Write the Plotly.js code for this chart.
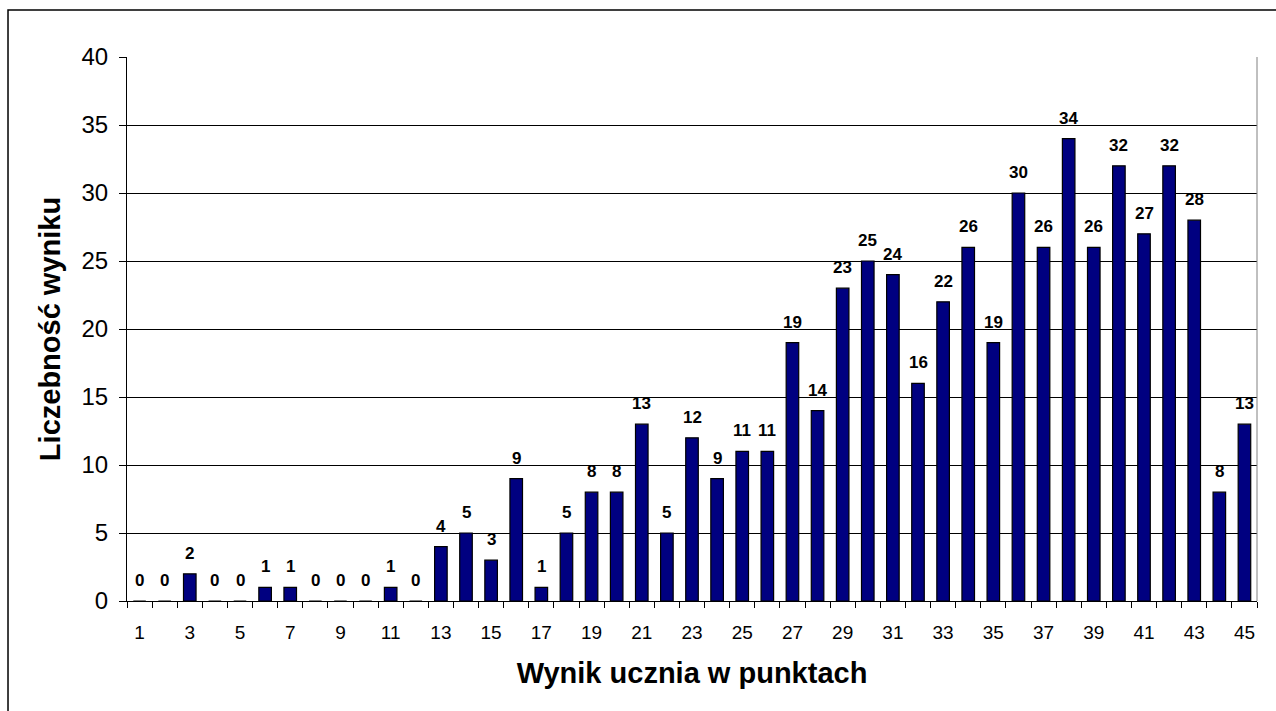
<!DOCTYPE html>
<html><head><meta charset="utf-8">
<script src="https://cdn.plot.ly/plotly-3.0.1.min.js"></script>
<style>html,body{margin:0;padding:0;background:#fff}#c{width:1276px;height:711px}</style>
</head><body><div id="c"></div>
<script>
const scores = Array.from({length:45},(_,i)=>i+1);
const counts = [0,0,2,0,0,1,1,0,0,0,1,0,4,5,3,9,1,5,8,8,13,5,12,9,11,11,19,14,23,25,24,16,22,26,19,30,26,34,26,32,27,32,28,8,13];
const xTickVals = [1,3,5,7,9,11,13,15,17,19,21,23,25,27,29,31,33,35,37,39,41,43,45];
const yTickVals = [0,5,10,15,20,25,30,35,40];
const font = 'Arial, "Liberation Sans", sans-serif';

const labels = scores.map((s,i)=>({
  x:s, y:counts[i], xref:'x', yref:'y', text:'<b>'+counts[i]+'</b>', showarrow:false,
  yanchor:'bottom', xanchor:'center', yshift:9,
  font:{family:font, size:17, color:'#000'}
}));

Plotly.newPlot('c', [{
  type:'bar', x:scores, y:counts, width:0.5,
  marker:{color:'#000080', line:{color:'#000', width:1.2}},
  hoverinfo:'none'
}], {
  width:1276, height:711,
  margin:{l:127, r:19, t:57, b:110},
  paper_bgcolor:'#fff', plot_bgcolor:'#fff',
  showlegend:false,
  font:{family:font, color:'#000'},
  annotations:labels,
  xaxis:{range:[0.5,45.5], tickmode:'array', tickvals:xTickVals, ticks:'',
    ticklabelstandoff:14,
    tickfont:{size:19, family:font}, showgrid:false, zeroline:false,
    showline:true, linecolor:'#000', linewidth:1,
    minor:{tickmode:'linear', tick0:0.5, dtick:1, ticks:'outside', ticklen:6, tickcolor:'#000', showgrid:false},
    title:{text:'<b>Wynik ucznia w punktach</b>', font:{size:29, family:font}, standoff:20}},
  yaxis:{range:[0,40], tickmode:'array', tickvals:yTickVals, ticks:'outside', ticklen:7, tickcolor:'#000',
    ticklabelstandoff:6,
    tickfont:{size:24, family:font}, showgrid:true, gridcolor:'#000', gridwidth:1,
    zeroline:false, showline:true, linecolor:'#000', linewidth:1,
    title:{text:'<b>Liczebność wyniku</b>', font:{size:29, family:font}, standoff:12}},
  shapes:[
    {type:'line', xref:'paper', yref:'paper', x0:1, x1:1, y0:0, y1:1, line:{color:'#808080', width:1}},
    {type:'rect', xref:'paper', yref:'paper', x0:-0.1053, x1:1.05, y0:-0.3, y1:1.0864, line:{color:'#000', width:1.5}, fillcolor:'rgba(0,0,0,0)'}
  ]
}, {staticPlot:true});
</script></body></html>
